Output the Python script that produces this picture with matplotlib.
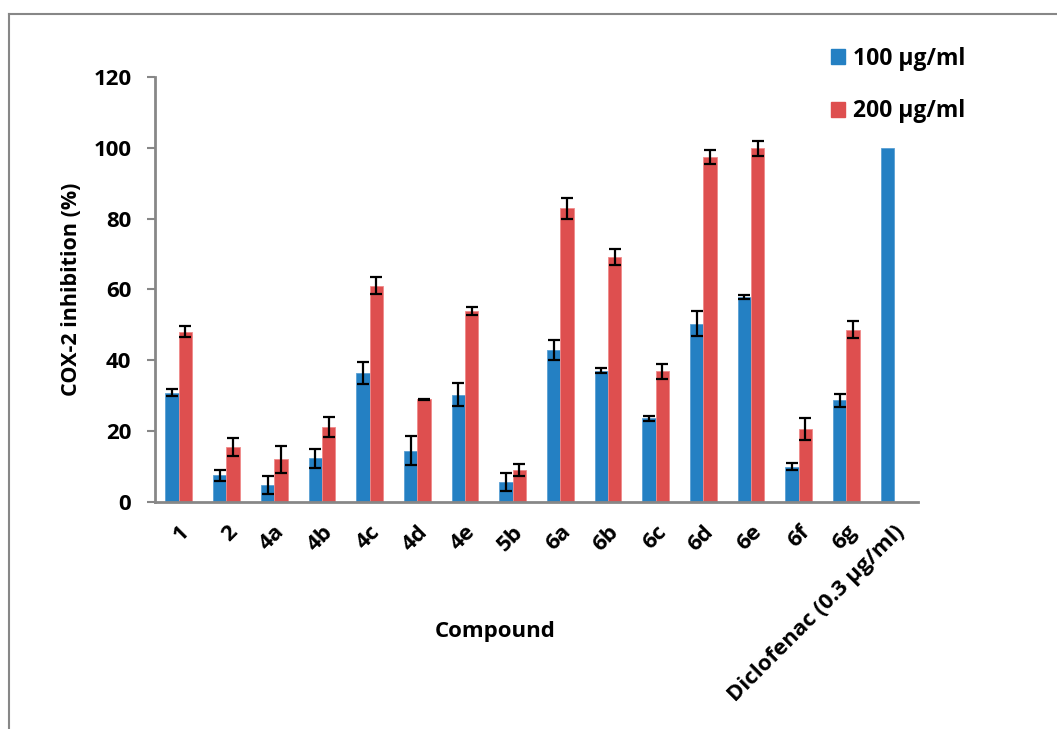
import numpy as np
import matplotlib
matplotlib.use('Agg')
import matplotlib.pyplot as plt
from matplotlib.patches import Patch
from matplotlib.lines import Line2D

plt.rcParams['font.family'] = ['Open Sans', 'DejaVu Sans']
plt.rcParams['font.weight'] = 'bold'

compounds = ['1', '2', '4a', '4b', '4c', '4d', '4e', '5b', '6a', '6b', '6c',
             '6d', '6e', '6f', '6g', 'Diclofenac (0.3 µg/ml)']
inh_100 = [30.9, 7.5, 4.7, 12.3, 36.4, 14.5, 30.3, 5.7, 42.9, 37.1, 23.6,
           50.3, 57.8, 9.9, 28.7, 100.0]
err_100 = [1.0, 1.5, 2.5, 2.8, 3.0, 4.0, 3.2, 2.6, 2.7, 0.8, 0.75,
           3.5, 0.6, 1.0, 1.9]
# diclofenac was only tested at one dose, no error bar
inh_200 = [48.1, 15.5, 12.0, 21.1, 61.1, 29.0, 53.9, 9.0, 82.9, 69.1, 36.9,
           97.4, 99.9, 20.6, 48.6]
err_200 = [1.6, 2.5, 3.8, 2.8, 2.5, 0.2, 1.1, 1.7, 3.0, 2.2, 2.1,
           2.0, 2.1, 3.0, 2.4]

blue = '#2480C3'
red = '#DE4F4F'
gray = '#878787'

fig = plt.figure(figsize=(10.57, 7.29), dpi=100)
ax = fig.add_axes([0.1466, 0.3114, 0.7219, 0.583])

x = np.arange(len(compounds))
w = 0.28
ekw = dict(ecolor='black', elinewidth=1.6, capsize=4.5, capthick=1.6)
ax.bar(x - w / 2, inh_100, w, color=blue, edgecolor='#5a9fd4', linewidth=0.6)
ax.errorbar(x[:len(err_100)] - w / 2, inh_100[:len(err_100)], yerr=err_100,
            fmt='none', **ekw)
x2 = x[:len(inh_200)]
ax.bar(x2 + w / 2, inh_200, w, color=red, edgecolor='#f08a8a', linewidth=0.6,
       yerr=err_200, error_kw=ekw)

ax.set_xlim(-0.5, len(compounds) - 0.5)
ax.set_ylim(0, 120)
ax.set_yticks(np.arange(0, 121, 20))
ax.set_xticks(x)
ax.set_xticklabels(compounds, rotation=45, ha='right', rotation_mode='anchor',
                   fontsize=16, fontweight='bold')
ax.tick_params(axis='x', length=0, pad=14)
ax.tick_params(axis='y', length=6, width=1.5, color=gray, labelsize=16, pad=11)
for lab in ax.get_yticklabels():
    lab.set_fontweight('bold')

for s in ['top', 'right']:
    ax.spines[s].set_visible(False)
for s in ['left', 'bottom']:
    ax.spines[s].set_color(gray)
    ax.spines[s].set_linewidth(2)

ax.set_ylabel('COX-2 inhibition (%)', fontsize=15.5, fontweight='bold', labelpad=8)
fig.text(495 / 1057, 1 - 632 / 729, 'Compound', fontsize=16, fontweight='bold',
         ha='center', va='center')

handles = [Patch(color=blue), Patch(color=red)]
fig.legend(handles, ['100 µg/ml', '200 µg/ml'], loc='upper left',
           bbox_to_anchor=(810 / 1057, 1 - 26 / 729), frameon=False,
           handlelength=0.62, handleheight=0.62, handletextpad=0.35,
           labelspacing=1.25, prop=dict(size=16.5, weight='bold'))

# outer frame of the pasted chart
fig.add_artist(Line2D([9 / 1057, 1.0], [1 - 14 / 729, 1 - 14 / 729], color=gray, lw=1.5))
fig.add_artist(Line2D([9 / 1057, 9 / 1057], [0, 1 - 14 / 729], color=gray, lw=1.5))

fig.savefig('out.png', dpi=100)
